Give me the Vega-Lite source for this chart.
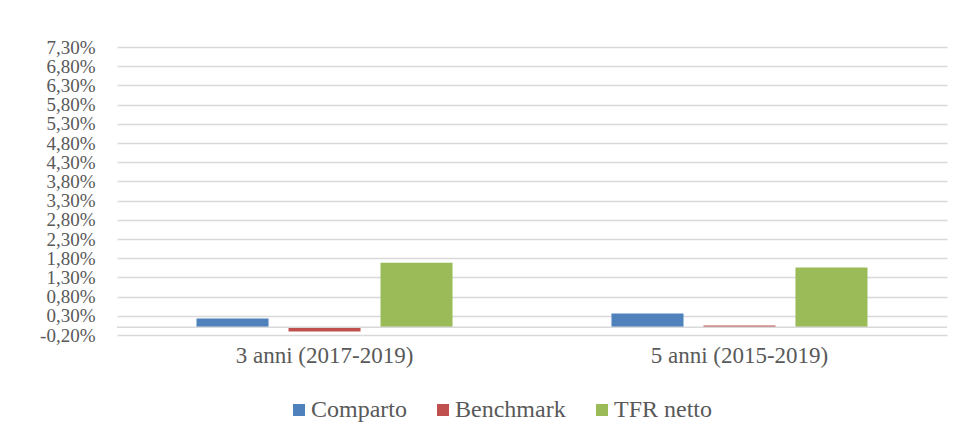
{
  "$schema": "https://vega.github.io/schema/vega-lite/v6.json",
  "width": 830,
  "height": 288,
  "autosize": {"type": "none"},
  "padding": {"left": 117, "top": 47, "right": 14, "bottom": 108},
  "background": "white",
  "data": {
    "values": [
      {"periodo": "3 anni (2017-2019)", "serie": "Comparto", "valore": 0.23},
      {"periodo": "3 anni (2017-2019)", "serie": "Benchmark", "valore": -0.11},
      {"periodo": "3 anni (2017-2019)", "serie": "TFR netto", "valore": 1.68},
      {"periodo": "5 anni (2015-2019)", "serie": "Comparto", "valore": 0.36},
      {"periodo": "5 anni (2015-2019)", "serie": "Benchmark", "valore": 0.05},
      {"periodo": "5 anni (2015-2019)", "serie": "TFR netto", "valore": 1.56}
    ]
  },
  "config": {
    "view": {"stroke": null},
    "font": "Liberation Serif",
    "axis": {"labelFont": "Liberation Serif", "labelColor": "#595959"},
    "legend": {"labelFont": "Liberation Serif", "labelColor": "#595959"}
  },
  "layer": [
    {
      "mark": {"type": "bar"},
      "encoding": {
        "x": {
          "field": "periodo",
          "type": "nominal",
          "sort": ["3 anni (2017-2019)", "5 anni (2015-2019)"],
          "scale": {"paddingInner": 0.383, "paddingOuter": 0.1916},
          "axis": {
            "title": null,
            "labelAngle": 0,
            "domain": false,
            "ticks": false,
            "grid": false,
            "labelFontSize": 23,
            "labelPadding": 9
          }
        },
        "xOffset": {
          "field": "serie",
          "type": "nominal",
          "sort": ["Comparto", "Benchmark", "TFR netto"],
          "scale": {"paddingInner": 0.217, "paddingOuter": 0}
        },
        "y": {
          "field": "valore",
          "type": "quantitative",
          "scale": {"domain": [-0.2, 7.3], "nice": false, "zero": false},
          "axis": {
            "title": null,
            "values": [-0.2, 0.3, 0.8, 1.3, 1.8, 2.3, 2.8, 3.3, 3.8, 4.3, 4.8, 5.3, 5.8, 6.3, 6.8, 7.3],
            "tickCount": 40,
            "labelExpr": "(datum.value < 0 ? '-' : '') + replace(format(abs(datum.value), '.2f'), '.', ',') + '%'",
            "domain": false,
            "ticks": false,
            "grid": true,
            "gridColor": "#d9d9d9",
            "gridWidth": 1.5,
            "labelFontSize": 19,
            "labelPadding": 22,
            "labelOverlap": false,
            "labelBound": false,
            "labelFlush": false
          }
        },
        "color": {
          "field": "serie",
          "type": "nominal",
          "scale": {
            "domain": ["Comparto", "Benchmark", "TFR netto"],
            "range": ["#4f81bd", "#c0504d", "#9bbb59"]
          },
          "legend": {
            "title": null,
            "orient": "none",
            "direction": "horizontal",
            "legendX": 170,
            "legendY": 351,
            "padding": 0,
            "symbolType": "square",
            "symbolSize": 144,
            "symbolStrokeWidth": 0,
            "labelFontSize": 24,
            "labelOffset": 0,
            "columnPadding": 24
          }
        }
      }
    },
    {
      "data": {"values": [{"zero": 0}]},
      "mark": {"type": "rule", "color": "#d9d9d9", "strokeWidth": 1.5},
      "encoding": {"y": {"field": "zero", "type": "quantitative"}}
    }
  ]
}
